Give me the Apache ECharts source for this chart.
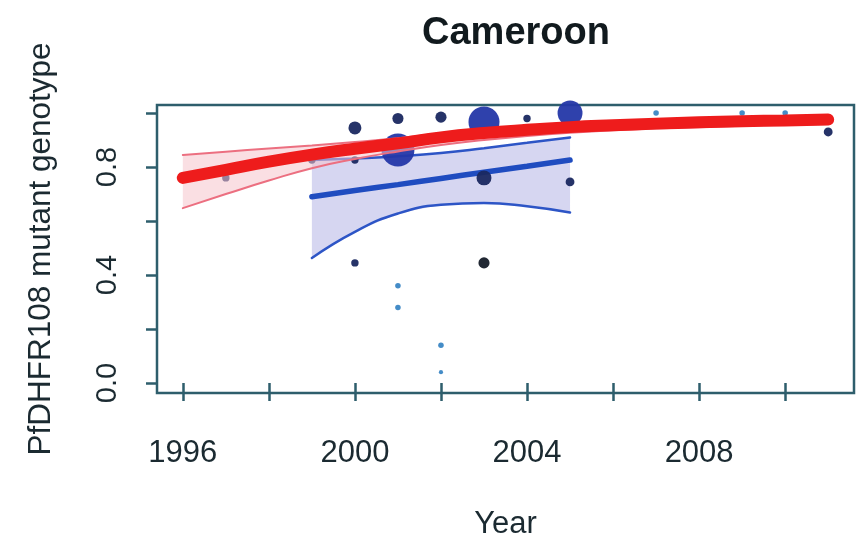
<!DOCTYPE html>
<html>
<head>
<meta charset="utf-8">
<script src="https://cdn.jsdelivr.net/npm/echarts@6/dist/echarts.min.js"></script>
<style>
  html, body { margin: 0; padding: 0; background: #ffffff; }
  #chart { width: 865px; height: 546px; }
</style>
</head>
<body>
<div id="chart"></div>
<script>
// Overall trend (red): fitted proportion and its confidence band, by year
const trendYears = [1996, 1997, 1998, 1999, 2000, 2001, 2002, 2003, 2004, 2005, 2006, 2007, 2008, 2009, 2010, 2011];
const trendFit   = [0.760, 0.790, 0.820, 0.846, 0.868, 0.888, 0.910, 0.926, 0.938, 0.948, 0.955, 0.961, 0.966, 0.970, 0.973, 0.976];
const trendUpper = [0.845, 0.857, 0.869, 0.880, 0.893, 0.907, 0.925, 0.940, 0.951, 0.960, 0.966, 0.971, 0.975, 0.979, 0.982, 0.985];
const trendLower = [0.648, 0.700, 0.750, 0.796, 0.830, 0.858, 0.882, 0.900, 0.915, 0.927, 0.936, 0.943, 0.948, 0.953, 0.957, 0.960];

// Country trend (blue): fitted proportion and its confidence band
const localYears = [1999, 2000, 2001, 2002, 2003, 2004, 2005];
const localFit   = [0.690, 0.713, 0.735, 0.758, 0.781, 0.803, 0.826];
const localUpper = [0.826, 0.832, 0.840, 0.852, 0.870, 0.890, 0.910];
const localLower = [0.463, 0.560, 0.628, 0.660, 0.667, 0.655, 0.632];

// Individual surveys: year, observed proportion, number of samples
const surveyYears = [1997, 1999, 2000, 2000, 2000, 2001, 2001, 2001, 2001, 2002, 2002, 2002, 2003, 2003, 2003, 2004, 2005, 2005, 2007, 2009, 2010, 2011];
const surveyProp  = [0.76, 0.826, 0.945, 0.826, 0.445, 0.863, 0.98, 0.36, 0.28, 0.985, 0.14, 0.04, 0.967, 0.76, 0.445, 0.98, 1.0, 0.745, 1.0, 1.0, 1.0, 0.93];
const surveyN     = [4, 4, 14, 4, 4, 100, 10, 2, 2, 10, 2, 1, 88, 19, 10, 4, 56, 6, 2, 2, 2, 6];

// Axis ticks and labels
const xTicks  = [1996, 1998, 2000, 2002, 2004, 2006, 2008, 2010];
const xLabels = [1996, 2000, 2004, 2008];
const yTicks  = [0, 0.2, 0.4, 0.6, 0.8, 1.0];
const yLabels = [0, 0.4, 0.8];

const axisColor = '#2e5e6c';
const textColor = '#1b2a31';
const fontFamily = '"Liberation Sans", Arial, sans-serif';

function pairs(xs, ys) { return xs.map((x, i) => [x, ys[i]]); }

// Band drawn as one polygon: upper edge forward, lower edge back
function bandSeries(xs, lo, hi, fill, z) {
  return {
    type: 'custom',
    z: z,
    silent: true,
    data: [0],
    renderItem: function (params, api) {
      const pts = [];
      for (let i = 0; i < xs.length; i++) pts.push(api.coord([xs[i], hi[i]]));
      for (let i = xs.length - 1; i >= 0; i--) pts.push(api.coord([xs[i], lo[i]]));
      return { type: 'polygon', shape: { points: pts }, style: { fill: fill } };
    }
  };
}

function lineSeries(xs, ys, color, width, z) {
  return {
    type: 'line',
    z: z,
    silent: true,
    symbol: 'none',
    smooth: true,
    data: pairs(xs, ys),
    lineStyle: { color: color, width: width, cap: 'round' }
  };
}

function surveyColor(n, p) {
  if (n >= 50) return '#2437a8';
  if (n <= 2) return '#3a86c4';
  if (p < 0.5 && n >= 8) return '#151c28';
  return '#1a2860';
}

const chart = echarts.init(document.getElementById('chart'), null, { renderer: 'canvas' });

chart.setOption({
  animation: false,
  backgroundColor: '#ffffff',
  title: {
    text: 'Cameroon',
    left: 511,
    top: 10,
    textAlign: 'center',
    textStyle: { fontFamily: fontFamily, fontSize: 38, fontWeight: 'bold', color: '#111a1e' }
  },
  grid: {
    left: 157, right: 11, top: 105, bottom: 153,
    show: true, borderColor: axisColor, borderWidth: 2.5, backgroundColor: 'transparent'
  },
  xAxis: {
    type: 'value',
    min: 1995.4, max: 2011.6,
    name: 'Year',
    nameLocation: 'middle',
    nameGap: 116,
    nameTextStyle: { fontFamily: fontFamily, fontSize: 31, color: textColor },
    axisLine: { show: false },
    splitLine: { show: false },
    axisTick: { show: true, customValues: xTicks, length: 18, lineStyle: { color: axisColor, width: 2.5 } },
    axisLabel: {
      customValues: xLabels, margin: 45,
      fontFamily: fontFamily, fontSize: 31, color: textColor,
      formatter: v => String(v)
    }
  },
  yAxis: {
    type: 'value',
    min: -0.037, max: 1.03,
    name: 'PfDHFR108 mutant genotype',
    nameLocation: 'middle',
    nameRotate: 90,
    nameGap: 100,
    nameTextStyle: { fontFamily: fontFamily, fontSize: 31.5, color: textColor },
    axisLine: { show: false },
    splitLine: { show: false },
    axisTick: { show: true, customValues: yTicks, length: 11, lineStyle: { color: axisColor, width: 2.5 } },
    axisLabel: {
      customValues: yLabels, rotate: 90, margin: 35,
      fontFamily: fontFamily, fontSize: 29, color: textColor,
      formatter: v => v.toFixed(1)
    }
  },
  series: [
    bandSeries(localYears, localLower, localUpper, 'rgba(200,200,236,0.75)', 1),
    lineSeries(localYears, localUpper, '#2d55c6', 2.5, 2),
    lineSeries(localYears, localLower, '#2d55c6', 2.5, 2),
    lineSeries(localYears, localFit, '#1f4cc0', 5.5, 3),
    {
      type: 'scatter',
      z: 4,
      silent: true,
      data: surveyYears.map((x, i) => ({
        value: [x, surveyProp[i]],
        symbolSize: 3.2 * Math.sqrt(surveyN[i]) + 1,
        itemStyle: { color: surveyColor(surveyN[i], surveyProp[i]), opacity: 0.95 }
      }))
    },
    bandSeries(trendYears, trendLower, trendUpper, 'rgba(246,196,204,0.55)', 5),
    lineSeries(trendYears, trendUpper, '#ec6f80', 2, 6),
    lineSeries(trendYears, trendLower, '#ec6f80', 2, 6),
    lineSeries(trendYears, trendFit, '#ee1c1c', 12, 7)
  ]
});
</script>
</body>
</html>
